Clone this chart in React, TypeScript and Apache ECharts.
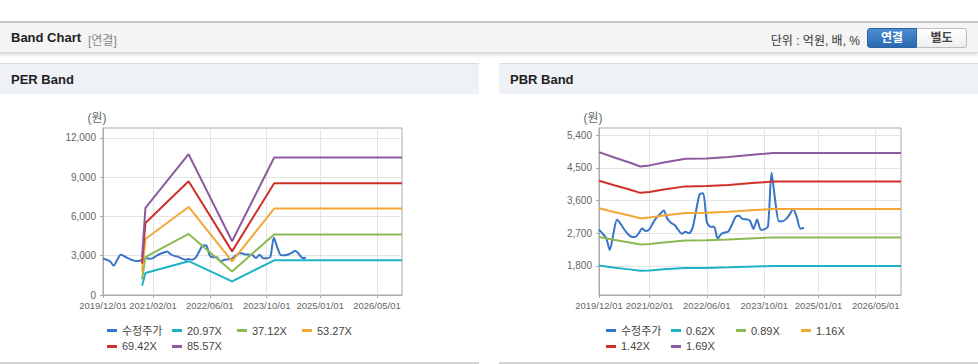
import React, { useEffect, useRef } from 'react';
import * as echarts from 'echarts';

// ---------- data ----------
const priceMonths = [
  '2019-12-01', '2020-01-01', '2020-02-01', '2020-03-01', '2020-04-01', '2020-05-01', '2020-06-01', '2020-07-01',
  '2020-08-01', '2020-09-01', '2020-10-01', '2020-11-01', '2020-12-01', '2021-01-01', '2021-02-01', '2021-03-01',
  '2021-04-01', '2021-05-01', '2021-06-01', '2021-07-01', '2021-08-01', '2021-09-01', '2021-10-01', '2021-11-01',
  '2021-12-01', '2022-01-01', '2022-02-01', '2022-03-01', '2022-04-01', '2022-05-01', '2022-06-01', '2022-07-01',
  '2022-08-01', '2022-09-01', '2022-10-01', '2022-11-01', '2022-12-01', '2023-01-01', '2023-02-01', '2023-03-01',
  '2023-04-01', '2023-05-01', '2023-06-01', '2023-07-01', '2023-08-01', '2023-09-01', '2023-10-01', '2023-11-01',
  '2023-12-01', '2024-01-01', '2024-02-01', '2024-03-01', '2024-04-01', '2024-05-01', '2024-06-01', '2024-07-01',
  '2024-08-01', '2024-09-01',
];
const adjPrice = [
  2800, 2690, 2560, 2240, 2690, 3070, 2960, 2810, 2680, 2605, 2595, 2700, 2830, 2760, 2815, 2980,
  3130, 3230, 3330, 3110, 2990, 2930, 2800, 2690, 2740, 2700, 2860, 3300, 3770, 3800, 3010, 2880,
  2880, 2550, 2680, 2720, 2750, 2950, 3160, 3180, 3090, 3085, 3050, 2820, 3080, 2800, 2810, 2900,
  4370, 3600, 3030, 3030, 3090, 3215, 3370, 3150, 2830, 2845,
];

const perDates = ['2020-10-30', '2020-11-28', '2021-12-02', '2022-12-09', '2023-12-04', '2026-12-01'];
const perNames = ['20.97X', '37.12X', '53.27X', '69.42X', '85.57X'];
const per2097 = [711, 1680, 2580, 1040, 2645, 2645];
const per3712 = [1200, 2900, 4660, 1800, 4620, 4620];
const per5327 = [1805, 4280, 6720, 2570, 6600, 6600];
const per6942 = [2400, 5500, 8680, 3330, 8530, 8530];
const per8557 = [2900, 6650, 10750, 4100, 10500, 10500];

const pbrDates = [
  '2019-12-01', '2020-04-15', '2020-08-15', '2020-11-15', '2021-02-01', '2021-06-01', '2021-12-01',
  '2022-06-01', '2022-12-01', '2023-07-15', '2023-10-01', '2023-12-15', '2026-12-01',
];
const pbrNames = ['0.62X', '0.89X', '1.16X', '1.42X', '1.69X'];
const pbr062 = [1810, 1753, 1706, 1665, 1676, 1706, 1743, 1747, 1761, 1787, 1794, 1801, 1801];
const pbr089 = [2599, 2517, 2448, 2391, 2407, 2448, 2502, 2507, 2528, 2565, 2575, 2585, 2585];
const pbr116 = [3387, 3280, 3191, 3116, 3137, 3191, 3261, 3268, 3294, 3343, 3356, 3370, 3370];
const pbr142 = [4146, 4016, 3906, 3814, 3840, 3906, 3992, 4000, 4033, 4092, 4108, 4125, 4125];
const pbr169 = [4935, 4779, 4649, 4539, 4570, 4649, 4751, 4761, 4800, 4871, 4889, 4909, 4909];

const xTickLabels = ['2019/12/01', '2021/02/01', '2022/06/01', '2023/10/01', '2025/01/01', '2026/05/01'];
const xRange = ['2019/12/01', '2026/12/01'];
const perYTicks = [0, 3000, 6000, 9000, 12000];
const perYRange = [0, 12750];
const pbrYTicks = [1800, 2700, 3600, 4500, 5400];
const pbrYRange = [1000, 5600];

const priceName = '수정주가';
const priceColor = '#3874c8';
const bandColors = ['#1fb1c6', '#8cba52', '#f3a836', '#cf3129', '#8d5a9e'];

// ---------- helpers ----------
const FONT = '"Liberation Sans", Arial, "Noto Sans CJK KR", sans-serif';
const KFONT = '"Liberation Sans", Arial, "Noto Sans CJK KR", sans-serif';
const ts = (s: string) => {
  const [y, m, d] = s.split(/[-/]/).map(Number);
  return Date.UTC(y, m - 1, d);
};
const pad = (n: number) => (n < 10 ? '0' + n : '' + n);
const fmtDate = (v: number) => {
  const d = new Date(v);
  return `${d.getUTCFullYear()}/${pad(d.getUTCMonth() + 1)}/${pad(d.getUTCDate())}`;
};
const zip = (dates: string[], vals: number[]) => dates.map((d, i) => [ts(d), vals[i]]);

const AXIS = '#a9a9a9';
const SPLIT = '#e4e4e4';
const LABEL = '#666';

function xAxisCfg(gridIndex: number) {
  const ticks = xTickLabels.map(ts);
  return {
    type: 'value',
    gridIndex,
    min: ts(xRange[0]),
    max: ts(xRange[1]),
    scale: true,
    axisLine: { show: true, onZero: false, lineStyle: { color: AXIS, width: 1 } },
    axisTick: { show: true, customValues: ticks, length: 3, lineStyle: { color: AXIS } },
    axisLabel: {
      customValues: ticks,
      formatter: (v: number) => fmtDate(v),
      color: LABEL,
      fontSize: 9.5,
      margin: 6,
      fontFamily: FONT,
      hideOverlap: false,
      showMinLabel: true,
      showMaxLabel: true,
    },
    splitLine: { show: true, lineStyle: { color: SPLIT, width: 1 } },
  };
}

function yAxisCfg(gridIndex: number, range: number[], ticks: number[]) {
  return {
    type: 'value',
    gridIndex,
    min: range[0],
    max: range[1],
    name: '(원)',
    nameLocation: 'end',
    nameGap: 4,
    nameTextStyle: { color: LABEL, fontSize: 12, fontFamily: KFONT, padding: [0, 12, 0, 0] },
    axisLine: { show: true, onZero: false, lineStyle: { color: AXIS, width: 1 } },
    axisTick: { show: true, customValues: ticks, length: 3, lineStyle: { color: AXIS } },
    axisLabel: {
      customValues: ticks,
      formatter: (v: number) => v.toLocaleString('en-US'),
      color: LABEL,
      fontSize: 10,
      margin: 7,
      fontFamily: FONT,
    },
    splitLine: { show: true, lineStyle: { color: SPLIT, width: 1 } },
  };
}

function lineSeries(name: string, data: number[][], color: string, axisIndex: number, smooth = false) {
  return {
    type: 'line',
    name,
    data,
    xAxisIndex: axisIndex,
    yAxisIndex: axisIndex,
    showSymbol: false,
    symbol: 'none',
    smooth: smooth ? 0.25 : false,
    color,
    lineStyle: { color, width: 2 },
    emphasis: { disabled: true },
  };
}

function legendCfg(left: number, names: string[]) {
  return {
    left,
    top: 325,
    width: 264,
    padding: 0,
    orient: 'horizontal',
    icon: 'rect',
    itemWidth: 10,
    itemHeight: 3,
    itemGap: 5,
    data: names,
    textStyle: { fontSize: 11, color: '#444', width: 45, lineHeight: 9, fontFamily: KFONT },
  };
}

function buildOption() {
  const perBands = [per2097, per3712, per5327, per6942, per8557];
  const pbrBands = [pbr062, pbr089, pbr116, pbr142, pbr169];
  const series: any[] = [];
  series.push(lineSeries(priceName, zip(priceMonths, adjPrice), priceColor, 0, true));
  perBands.forEach((b, i) => series.push(lineSeries(perNames[i], zip(perDates, b), bandColors[i], 0)));
  series.push(lineSeries(priceName, zip(priceMonths, adjPrice), priceColor, 1, true));
  pbrBands.forEach((b, i) => series.push(lineSeries(pbrNames[i], zip(pbrDates, b), bandColors[i], 1)));

  return {
    animation: false,
    backgroundColor: 'transparent',
    textStyle: { fontFamily: FONT },
    grid: [
      { left: 103, top: 128, width: 299, height: 167, show: true, borderColor: AXIS, borderWidth: 1, backgroundColor: 'transparent', containLabel: false },
      { left: 599, top: 128, width: 302, height: 167, show: true, borderColor: AXIS, borderWidth: 1, backgroundColor: 'transparent', containLabel: false },
    ],
    xAxis: [xAxisCfg(0), xAxisCfg(1)],
    yAxis: [yAxisCfg(0, perYRange, perYTicks), yAxisCfg(1, pbrYRange, pbrYTicks)],
    legend: [legendCfg(107, [priceName, ...perNames]), legendCfg(606, [priceName, ...pbrNames])],
    series,
  };
}

function Chart() {
  const ref = useRef<HTMLDivElement>(null);
  useEffect(() => {
    if (!ref.current) return;
    const chart = echarts.init(ref.current, undefined, { renderer: 'svg' });
    chart.setOption(buildOption() as any);
    return () => chart.dispose();
  }, []);
  return <div ref={ref} style={{ position: 'absolute', left: 0, top: 0, width: 978, height: 364 }} />;
}

export default function App() {
  useEffect(() => {
    document.body.style.margin = '0';
  }, []);
  const btnBase: React.CSSProperties = {
    position: 'absolute',
    top: 28,
    height: 20,
    width: 50,
    boxSizing: 'border-box',
    fontSize: 12,
    fontWeight: 'bold',
    lineHeight: '18px',
    textAlign: 'center',
    fontFamily: KFONT,
  };
  return (
    <div style={{ position: 'fixed', left: 0, top: 0, width: 978, height: 364, background: '#fff', overflow: 'hidden', fontFamily: FONT }}>
      <div style={{ position: 'absolute', left: 0, top: 21, width: 978, height: 2, background: '#c9c9c9' }} />
      <div
        style={{
          position: 'absolute', left: 0, top: 23, width: 978, height: 29, background: '#f4f4f4',
          borderBottom: '1px solid #d9d9d9', boxShadow: '0 2px 3px rgba(0,0,0,0.15)',
        }}
      >
        <span style={{ position: 'absolute', left: 11, top: 7, fontSize: 13, fontWeight: 'bold', color: '#222' }}>Band Chart</span>
        <span style={{ position: 'absolute', left: 88, top: 8, fontSize: 12, color: '#888', fontFamily: KFONT }}>[연결]</span>
        <span style={{ position: 'absolute', right: 118, top: 8, fontSize: 12, color: '#333', fontFamily: KFONT }}>단위 : 억원, 배, %</span>
      </div>
      <div
        style={{
          ...btnBase, left: 867, color: '#fff', background: 'linear-gradient(#4a8dd3, #2b69b0)',
          border: '1px solid #2a62a6', borderRadius: '3px 0 0 3px',
        }}
      >
        연결
      </div>
      <div
        style={{
          ...btnBase, left: 917, color: '#444', background: 'linear-gradient(#ffffff, #eeeeee)',
          border: '1px solid #bdbdbd', borderLeft: 'none', borderRadius: '0 3px 3px 0',
        }}
      >
        별도
      </div>

      <div style={{ position: 'absolute', left: 0, top: 63, width: 479, height: 30, background: '#eef2f6', borderTop: '1px solid #d8dbe0' }}>
        <span style={{ position: 'absolute', left: 11, top: 8, fontSize: 13, fontWeight: 'bold', color: '#222' }}>PER Band</span>
      </div>
      <div style={{ position: 'absolute', left: 499, top: 63, width: 479, height: 30, background: '#eef2f6', borderTop: '1px solid #d8dbe0' }}>
        <span style={{ position: 'absolute', left: 11, top: 8, fontSize: 13, fontWeight: 'bold', color: '#222' }}>PBR Band</span>
      </div>

      <div style={{ position: 'absolute', left: 0, top: 362, width: 479, height: 2, background: '#d4d4d4' }} />
      <div style={{ position: 'absolute', left: 499, top: 362, width: 479, height: 2, background: '#d4d4d4' }} />

      <Chart />
    </div>
  );
}
